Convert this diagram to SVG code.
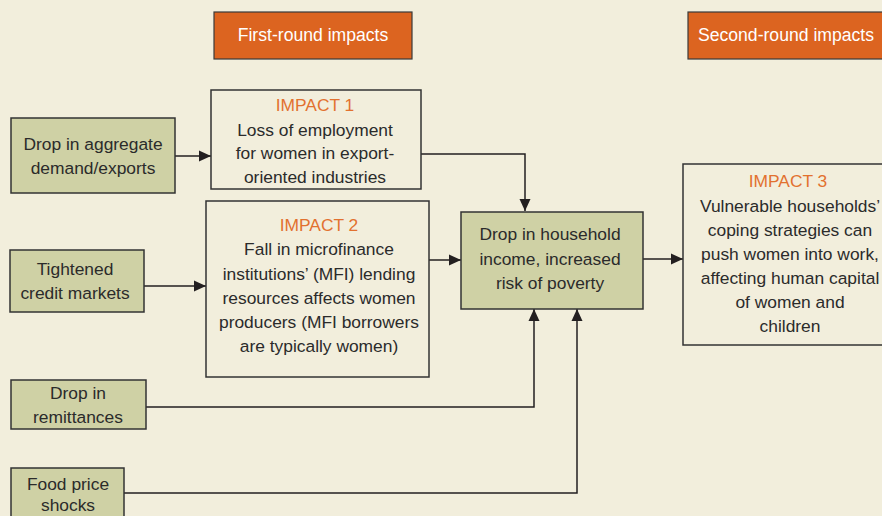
<svg xmlns="http://www.w3.org/2000/svg" width="882" height="516" viewBox="0 0 882 516">
<defs>
<marker id="arr" markerUnits="userSpaceOnUse" markerWidth="12" markerHeight="12" viewBox="0 0 12 12" refX="12" refY="6" orient="auto">
<path d="M0,0.5 L12,6 L0,11.5 Z" fill="#231f20"/>
</marker>
<style>
.bg{fill:#f2eedc}
.hdr{fill:#dc6420;stroke:#3a3a3a;stroke-width:1.2}
.hdrt{font-family:"Liberation Sans",Arial,sans-serif;font-size:17.6px;fill:#ffffff;text-anchor:middle}
.src{fill:#cfd1a5;stroke:#333;stroke-width:1.5}
.imp{fill:#f2eedc;stroke:#333;stroke-width:1.5}
.t{font-family:"Liberation Sans",Arial,sans-serif;font-size:17.4px;fill:#2b2b2b;text-anchor:middle}
.lab{font-family:"Liberation Sans",Arial,sans-serif;font-size:17.4px;fill:#e2712f;text-anchor:middle}
.c{fill:none;stroke:#231f20;stroke-width:1.5}
</style>
</defs>
<rect class="bg" x="0" y="0" width="882" height="516"/>

<g id="header1">
<rect class="hdr" x="214" y="12" width="198" height="47"/>
<text class="hdrt" x="313" y="41">First-round impacts</text>
</g>
<g id="header2">
<rect class="hdr" x="688" y="12" width="200" height="47"/>
<text class="hdrt" x="786" y="41">Second-round impacts</text>
</g>

<g id="connectors">
<line class="c" x1="175" y1="156" x2="211" y2="156" marker-end="url(#arr)"/>
<polyline class="c" points="421,154 525,154 525,211" marker-end="url(#arr)"/>
<line class="c" x1="144" y1="286" x2="206" y2="286" marker-end="url(#arr)"/>
<line class="c" x1="429" y1="260" x2="461" y2="260" marker-end="url(#arr)"/>
<line class="c" x1="643" y1="259" x2="683" y2="259" marker-end="url(#arr)"/>
<polyline class="c" points="146,407 534,407 534,309" marker-end="url(#arr)"/>
<polyline class="c" points="124,493 577,493 577,309" marker-end="url(#arr)"/>
</g>

<g id="drop-aggregate">
<rect class="src" x="11" y="118" width="164" height="75"/>
<text class="t" x="93" y="150">Drop in aggregate</text>
<text class="t" x="93" y="174">demand/exports</text>
</g>

<g id="impact1">
<rect class="imp" x="211" y="90" width="210" height="99"/>
<text class="lab" x="315" y="111">IMPACT 1</text>
<text class="t" x="315" y="136">Loss of employment</text>
<text class="t" x="315" y="159">for women in export-</text>
<text class="t" x="315" y="183">oriented industries</text>
</g>

<g id="tightened-credit">
<rect class="src" x="10" y="250" width="134" height="62"/>
<text class="t" x="75" y="275">Tightened</text>
<text class="t" x="75" y="299">credit markets</text>
</g>

<g id="impact2">
<rect class="imp" x="206" y="201" width="223" height="176"/>
<text class="lab" x="319" y="231">IMPACT 2</text>
<text class="t" x="319" y="255">Fall in microfinance</text>
<text class="t" x="319" y="280">institutions’ (MFI) lending</text>
<text class="t" x="319" y="304">resources affects women</text>
<text class="t" x="319" y="328">producers (MFI borrowers</text>
<text class="t" x="319" y="352">are typically women)</text>
</g>

<g id="household-income">
<rect class="src" x="461" y="212" width="182" height="97"/>
<text class="t" x="550" y="240">Drop in household</text>
<text class="t" x="550" y="265">income, increased</text>
<text class="t" x="550" y="289">risk of poverty</text>
</g>

<g id="impact3">
<rect class="imp" x="683" y="164" width="210" height="181"/>
<text class="lab" x="788" y="187">IMPACT 3</text>
<text class="t" x="790" y="212">Vulnerable households’</text>
<text class="t" x="790" y="236">coping strategies can</text>
<text class="t" x="790" y="260">push women into work,</text>
<text class="t" x="790" y="284">affecting human capital</text>
<text class="t" x="790" y="308">of women and</text>
<text class="t" x="790" y="332">children</text>
</g>

<g id="drop-remittances">
<rect class="src" x="11" y="380" width="135" height="49"/>
<text class="t" x="78" y="399">Drop in</text>
<text class="t" x="78" y="423">remittances</text>
</g>

<g id="food-price">
<rect class="src" x="11" y="468" width="113" height="56"/>
<text class="t" x="68" y="490">Food price</text>
<text class="t" x="68" y="511">shocks</text>
</g>
</svg>
